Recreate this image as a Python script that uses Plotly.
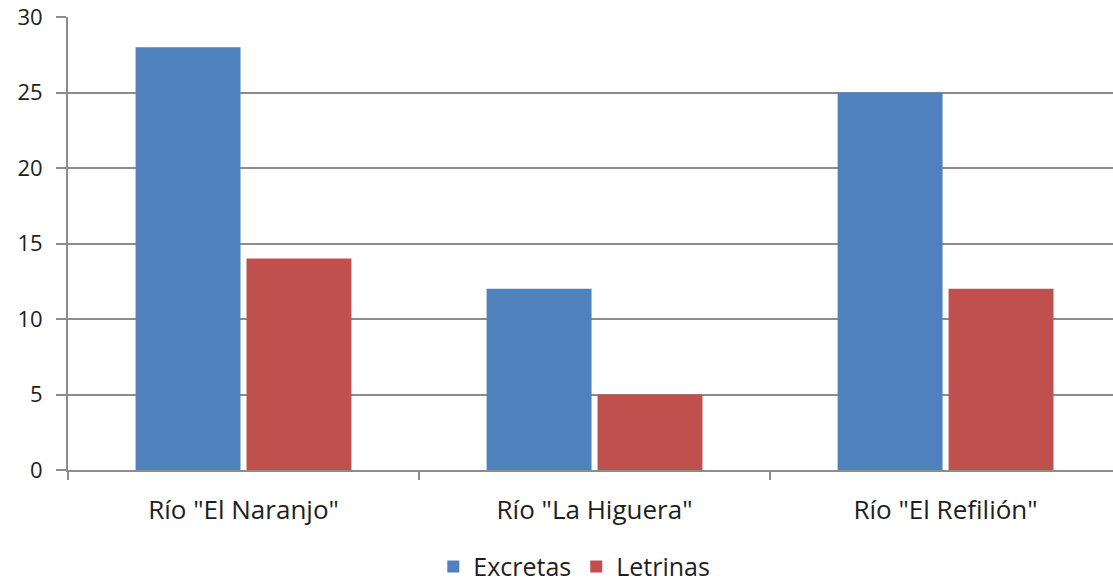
import plotly.graph_objects as go

categories = ['Río "El Naranjo"', 'Río "La Higuera"', 'Río "El Refilión"']
excretas = [28, 12, 25]
letrinas = [14, 5, 12]
y_ticks = [0, 5, 10, 15, 20, 25, 30]

BLUE = "#4F81BD"
RED = "#C0504D"
GRID = "#8C8C8C"
TEXT = "#1E1E1E"
FONT = "Open Sans"

fig = go.Figure()
fig.add_trace(go.Bar(name="Excretas", x=categories, y=excretas, marker_color=BLUE,
                     marker_line_width=0))
fig.add_trace(go.Bar(name="Letrinas", x=categories, y=letrinas, marker_color=RED,
                     marker_line_width=0))

fig.update_layout(
    width=1113, height=585,
    margin=dict(l=68, r=0, t=17, b=115, autoexpand=False),
    plot_bgcolor="white", paper_bgcolor="white",
    barmode="group", bargap=0.368, bargroupgap=0.054,
    font=dict(family=FONT, size=22, color=TEXT),
    showlegend=True,
    legend=dict(orientation="h", xref="container", yref="container",
                x=0.516, xanchor="center", y=0.031, yanchor="middle",
                font=dict(family=FONT, size=25, color=TEXT),
                itemwidth=30, traceorder="normal"),
)
fig.update_xaxes(
    type="category", range=[-0.5, 2.477],
    showline=True, linecolor=GRID, linewidth=2,
    ticks="outside", tickson="boundaries", ticklen=8, tickcolor=GRID, tickwidth=2,
    showgrid=False, tickfont=dict(family=FONT, size=26, color=TEXT),
    ticklabelstandoff=16, tickangle=0, automargin=False,
)
fig.update_yaxes(
    range=[0, 30], tickvals=y_ticks,
    showline=True, linecolor=GRID, linewidth=2,
    showgrid=True, gridcolor=GRID, gridwidth=2,
    ticks="outside", ticklen=10, tickcolor=GRID, tickwidth=2,
    zeroline=False, automargin=False,
    tickfont=dict(family=FONT, size=22, color=TEXT), ticklabelstandoff=9,
)

fig.write_html("out.html")
